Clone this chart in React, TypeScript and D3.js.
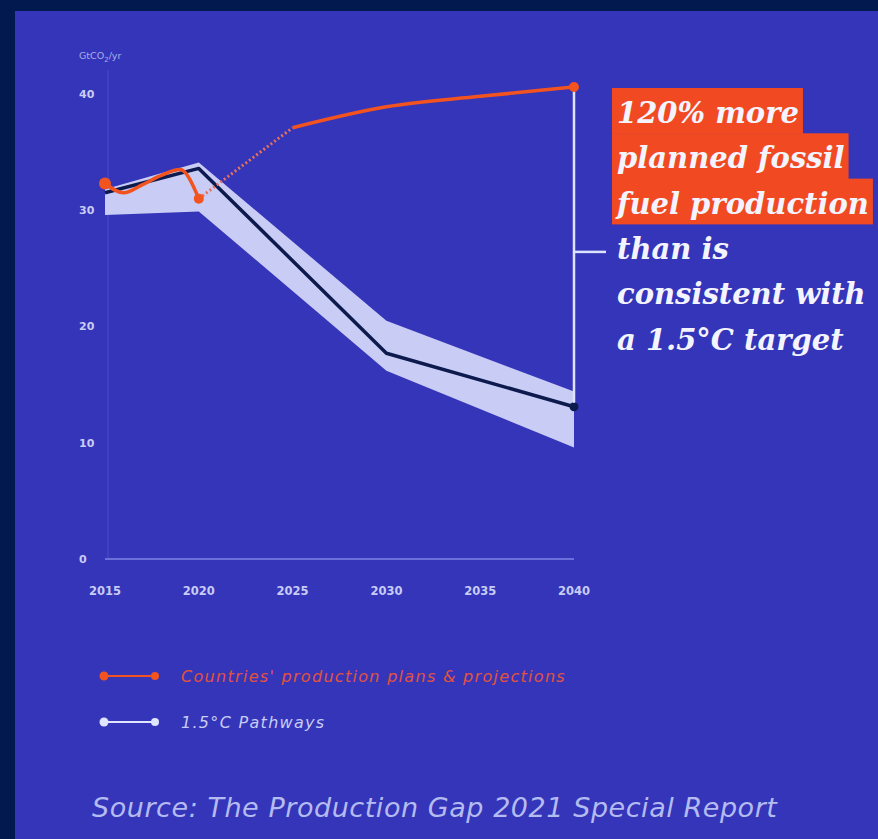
import React, { useLayoutEffect, useRef, useState } from "react";
import * as d3 from "d3";

// Historical production (annual), GtCO2/yr
const historyYears = [2015, 2016, 2017, 2018, 2019, 2020];
const historyValues = [32.3, 31.5, 32.2, 33.0, 33.5, 31.0];

// Countries' planned production
const planYears = [2020, 2025, 2030, 2035, 2040];
const planValues = [31.0, 37.1, 38.9, 39.8, 40.6];

// 1.5°C pathways: median and range
const pathwayYears = [2015, 2020, 2030, 2040];
const pathwayMedian = [31.5, 33.6, 17.7, 13.1];
const pathwayLow = [29.6, 29.9, 16.2, 9.6];
const pathwayHigh = [31.8, 34.1, 20.5, 14.4];

const xTicks = [2015, 2020, 2025, 2030, 2035, 2040];
const yTicks = [0, 10, 20, 30, 40];

const highlightLines = ["120% more", "planned fossil", "fuel production"];
const plainLines = ["than is", "consistent with", "a 1.5°C target"];

const legendItems = [
  { label: "Countries' production plans & projections", key: "plans" },
  { label: "1.5°C Pathways", key: "pathway" },
];

const W = 878;
const H = 839;
const BG = "#3535b9";
const FRAME = "#01194f";
const ORANGE = "#f2531f";
const NAVY = "#0c1a4d";
const BAND = "#c9ccf4";
const PALE = "#c7ccf5";
const SANS = "DejaVu Sans, sans-serif";

export default function App() {
  const x = d3.scaleLinear().domain([2015, 2040]).range([105, 574]);
  const y = d3.scaleLinear().domain([0, 40]).range([559, 94]);

  const line = d3
    .line<[number, number]>()
    .x((d) => x(d[0]))
    .y((d) => y(d[1]));
  const smooth = d3
    .line<[number, number]>()
    .x((d) => x(d[0]))
    .y((d) => y(d[1]))
    .curve(d3.curveMonotoneX);

  const area = d3
    .area<number>()
    .x((_, i) => x(pathwayYears[i]))
    .y0((_, i) => y(pathwayLow[i]))
    .y1((_, i) => y(pathwayHigh[i]));

  const history: [number, number][] = historyYears.map((yr, i) => [yr, historyValues[i]]);
  const planGap: [number, number][] = planYears.slice(0, 2).map((yr, i) => [yr, planValues[i]]);
  const plan: [number, number][] = planYears.slice(1).map((yr, i) => [yr, planValues[i + 1]]);
  const median: [number, number][] = pathwayYears.map((yr, i) => [yr, pathwayMedian[i]]);

  const textRefs = useRef<(SVGTextElement | null)[]>([]);
  const [widths, setWidths] = useState<number[]>([192, 236, 255]);
  useLayoutEffect(() => {
    const w = textRefs.current.map((t) => (t ? t.getComputedTextLength() : 0));
    setWidths(w);
  }, []);

  const annX = 617;
  const lineGap = 45.3;
  const firstBase = 123;

  const endTop = y(planValues[planValues.length - 1]);
  const endBottom = y(pathwayMedian[pathwayMedian.length - 1]);
  const tickY = firstBase + 3 * lineGap - 7;

  return (
    <>
      <style>{"body{margin:0}"}</style>
      <svg width={W} height={H} style={{ display: "block" }}>
        <rect width={W} height={H} fill={FRAME} />
        <rect x={15} y={11} width={W - 15} height={H - 11} fill={BG} />

        {/* axes */}
        <line x1={108} x2={108} y1={70} y2={559} stroke="#4446c4" strokeWidth={1.5} />
        <line x1={x(2015)} x2={x(2040)} y1={559} y2={559} stroke="#6b70db" strokeWidth={2} />
        <text x={79} y={59} fill="#a9afe9" fontSize={9.5} fontFamily={SANS}>
          GtCO<tspan fontSize={7} dy={3}>2</tspan>
          <tspan dy={-3}>/yr</tspan>
        </text>
        {yTicks.map((t) => (
          <text
            key={t}
            x={79}
            y={y(t)}
            dy="0.35em"
            fill={PALE}
            fontSize={11}
            fontWeight={700}
            fontFamily={SANS}
          >
            {t}
          </text>
        ))}
        {xTicks.map((t) => (
          <text
            key={t}
            x={x(t)}
            y={591}
            dy="0.35em"
            textAnchor="middle"
            fill={PALE}
            fontSize={11.5}
            fontWeight={700}
            fontFamily={SANS}
          >
            {t}
          </text>
        ))}

        {/* 1.5°C pathway range and median */}
        <path d={area(pathwayLow) || ""} fill={BAND} />
        <path d={line(median) || ""} fill="none" stroke={NAVY} strokeWidth={3.5} strokeLinejoin="round" />
        <circle cx={x(2040)} cy={y(pathwayMedian[3])} r={4.5} fill={NAVY} />

        {/* production: history, projection gap, plans */}
        <path
          d={line(planGap) || ""}
          fill="none"
          stroke="#e8705a"
          strokeWidth={3}
          strokeDasharray="2 2.5"
        />
        <path d={smooth(history) || ""} fill="none" stroke={ORANGE} strokeWidth={3.5} strokeLinejoin="round" />
        <path d={smooth(plan) || ""} fill="none" stroke={ORANGE} strokeWidth={3.5} />
        <circle cx={x(2015)} cy={y(historyValues[0])} r={6} fill={ORANGE} />
        <circle cx={x(2020)} cy={y(historyValues[5])} r={5} fill={ORANGE} />

        {/* bracket between plans and pathway */}
        <line x1={x(2040)} x2={x(2040)} y1={endTop} y2={endBottom - 4} stroke="#dde4ff" strokeWidth={2.5} />
        <line x1={x(2040)} x2={606} y1={tickY} y2={tickY} stroke="#dde4ff" strokeWidth={2.5} />
        <circle cx={x(2040)} cy={endTop} r={5} fill={ORANGE} />

        {/* annotation */}
        {highlightLines.map((s, i) => (
          <rect
            key={"hb" + i}
            x={annX - 5}
            y={firstBase + i * lineGap - 35}
            width={(widths[i] || 0) + 9}
            height={lineGap + 0.5}
            fill="#f14a22"
          />
        ))}
        {[...highlightLines, ...plainLines].map((s, i) => (
          <text
            key={"t" + i}
            ref={(el) => {
              if (i < 3) textRefs.current[i] = el;
            }}
            x={annX}
            y={firstBase + i * lineGap}
            fill="#f4f4ff"
            fontSize={29}
            fontStyle="italic"
            fontWeight={700}
            fontFamily="DejaVu Serif, serif"
          >
            {s}
          </text>
        ))}

        {/* legend */}
        {legendItems.map((item, i) => {
          const ly = 676 + i * 46;
          const c = item.key === "plans" ? ORANGE : "#dfe4ff";
          return (
            <g key={item.key}>
              <line x1={104} x2={155} y1={ly} y2={ly} stroke={c} strokeWidth={2} />
              <circle cx={104} cy={ly} r={4.5} fill={c} />
              <circle cx={155} cy={ly} r={4} fill={c} />
              <text
                x={181}
                y={ly}
                dy="0.35em"
                fill={item.key === "plans" ? "#e2533d" : PALE}
                fontSize={16}
                letterSpacing={1.3}
                fontStyle="italic"
                fontFamily={SANS}
              >
                {item.label}
              </text>
            </g>
          );
        })}

        <text
          x={92}
          y={817}
          fill="#b4bbf0"
          fontSize={27}
          letterSpacing={0.55}
          fontStyle="italic"
          fontFamily={SANS}
        >
          Source: The Production Gap 2021 Special Report
        </text>
      </svg>
    </>
  );
}
